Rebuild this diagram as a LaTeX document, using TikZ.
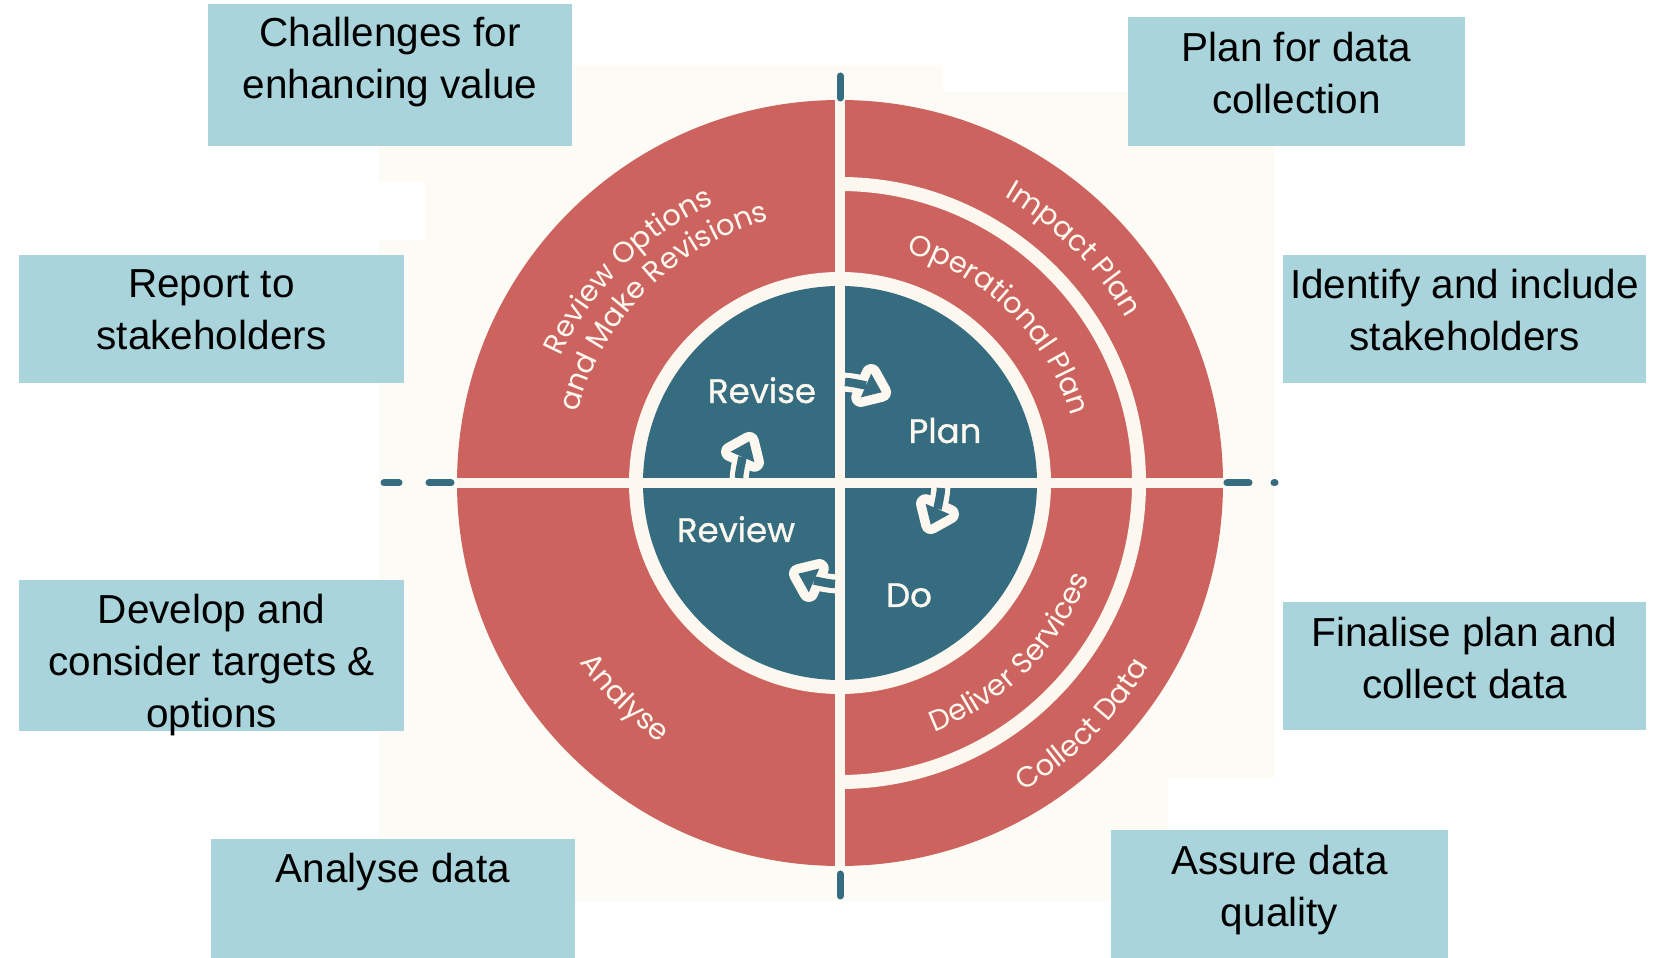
\documentclass[tikz,border=0pt]{standalone}
\usepackage{fontspec}
\setmainfont{Liberation Sans}
\newfontfamily\ringfont{Poppins}
\newfontfamily\stepfont{Poppins}[FakeBold=0.9]
\usepackage{tikz}
\usetikzlibrary{positioning,decorations.text}
\definecolor{ring_red}{RGB}{205,99,94}
\definecolor{disk_teal}{RGB}{54,108,128}
\definecolor{line_cream}{RGB}{252,248,239}
\definecolor{bg_cream}{RGB}{253,251,245}
\definecolor{box_blue}{RGB}{170,212,219}
\newcommand\ringfmt{\fontsize{29}{31}\ringfont\color{line_cream}}

\begin{document}
\begin{tikzpicture}[x=1pt,y=1pt]
    \tikzstyle{box}=[fill=box_blue, inner sep=0pt]
    \tikzstyle{box_text}=[align=center, inner sep=0pt, text=black, font=\fontsize{40.5}{52}\selectfont]
    \tikzstyle{step_label}=[text=line_cream, inner sep=0pt, anchor=base, font=\fontsize{34}{36}\stepfont]
    \tikzstyle{ring_text}=[decorate, decoration={text along path, text align=center}]
    \tikzstyle{dash_mark}=[disk_teal, line width=7pt, line cap=round]

    \useasboundingbox (0,0) rectangle (1665,958);
    \fill[white] (0,0) rectangle (1665,958);
    \fill[bg_cream] (379,57) rectangle (1275,893);
    \fill[white] (379,718) rectangle (425,776);
    \fill[white] (1168,57) rectangle (1275,180);
    \fill[white] (943,866) rectangle (1128,893);

    \coordinate (hub) at (840,475);

    % rings
    \fill[ring_red] (hub) circle[radius=383];
    \fill[line_cream] (hub) circle[radius=211];
    \fill[disk_teal] (hub) circle[radius=197];
    \draw[line_cream, line width=14pt] (hub) ++(90:299) arc[start angle=90, end angle=-90, radius=299];
    \draw[line_cream, line width=10pt] (hub) ++(-383,0) -- ++(766,0);
    \draw[line_cream, line width=10pt] (hub) ++(0,-383) -- ++(0,766);

    % dashes beyond the circle
    \draw[dash_mark] (384,475) -- (399,475);
    \draw[dash_mark] (429,475) -- (451,475);
    \draw[dash_mark] (1227,475) -- (1249,475);
    \draw[dash_mark] (1274,475) -- (1275,475);
    \draw[dash_mark] (840,860) -- (840,882);
    \draw[dash_mark] (840,62) -- (840,84);

    % turning arrows
    \foreach \turn in {0,-90,-180,-270}{
      \begin{scope}[shift={(hub)}, rotate=\turn]
        \draw[line_cream, line width=19pt] (0,101) .. controls (10,101) and (18,99) .. (26,97.5);
        \filldraw[line_cream, line width=19pt, line join=round] (41.6,90.7) -- (31.2,109.4) -- (20.8,85.6) -- cycle;
        \draw[disk_teal, line width=8.5pt] (5,101) .. controls (10,101) and (18,99) .. (26,97.5);
        \fill[disk_teal] (41.6,90.7) -- (31.2,109.4) -- (20.8,85.6) -- cycle;
      \end{scope}
    }

    \node[step_label] (revise) at (762,555) {Revise};
    \node[step_label] (plan_step) at (945,515) {Plan};
    \node[step_label] (review) at (736,416) {Review};
    \node[step_label] (do) at (909,351) {Do};

    % texts on the rings
    \path[ring_text, decoration={text={|\ringfmt|Review Options}}] (hub) ++(180:306) arc[start angle=180, end angle=90, radius=306];
    \path[ring_text, decoration={text={|\ringfmt|and Make Revisions}}] (hub) ++(180:272) arc[start angle=180, end angle=90, radius=272];
    \path[ring_text, decoration={text={|\ringfmt|Impact Plan}}] (hub) ++(90:330) arc[start angle=90, end angle=0, radius=330];
    \path[ring_text, decoration={text={|\ringfmt|Operational Plan}}] (hub) ++(90:240) arc[start angle=90, end angle=0, radius=240];
    \path[ring_text, decoration={text={|\ringfmt|Analyse}}] (hub) ++(180:316) arc[start angle=180, end angle=270, radius=316];
    \path[ring_text, decoration={text={|\ringfmt|Deliver Services}}] (hub) ++(-90:266) arc[start angle=-90, end angle=0, radius=266];
    \path[ring_text, decoration={text={|\ringfmt|Collect Data}}] (hub) ++(-90:359) arc[start angle=-90, end angle=0, radius=359];

    % boxes
    \node[box, minimum width=364pt, minimum height=142pt] (challenges) at (390,883) {};
    \node[box_text, below=13pt of challenges.north] (challenges_txt) {Challenges for\\enhancing value};
    \node[box, minimum width=385pt, minimum height=128pt] (report) at (211.5,639) {};
    \node[box_text, below=15pt of report.north] (report_txt) {Report to\\stakeholders};
    \node[box, minimum width=385pt, minimum height=151pt] (develop) at (211.5,302.5) {};
    \node[box_text, below=14pt of develop.north] (develop_txt) {Develop and\\consider targets \&\\options};
    \node[box, minimum width=364pt, minimum height=119pt] (analyse) at (393,59.5) {};
    \node[box_text, below=14pt of analyse.north] (analyse_txt) {Analyse data};
    \node[box, minimum width=337pt, minimum height=129pt] (plan) at (1296.5,876.5) {};
    \node[box_text, below=15pt of plan.north] (plan_txt) {Plan for data\\collection};
    \node[box, minimum width=363pt, minimum height=128pt] (identify) at (1464.5,639) {};
    \node[box_text, below=14pt of identify.north] (identify_txt) {Identify and include\\stakeholders};
    \node[box, minimum width=363pt, minimum height=128pt] (finalise) at (1464.5,292) {};
    \node[box_text, below=15pt of finalise.north] (finalise_txt) {Finalise plan and\\collect data};
    \node[box, minimum width=337pt, minimum height=128pt] (assure) at (1279.5,64) {};
    \node[box_text, below=15pt of assure.north] (assure_txt) {Assure data\\quality};
\end{tikzpicture}
\end{document}
